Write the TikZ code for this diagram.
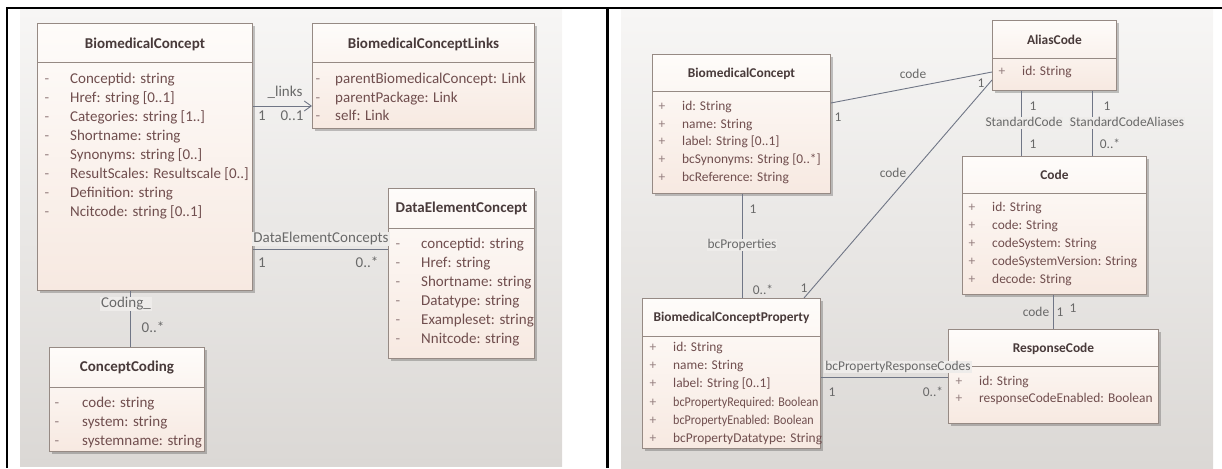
\documentclass[tikz,border=0pt]{standalone}
\usepackage{fontspec}
\usepackage{graphicx}
\setmainfont{Carlito}
\usetikzlibrary{shadows,arrows.meta}

\definecolor{panelTop}{RGB}{247,246,245}
\definecolor{panelBot}{RGB}{219,216,213}
\definecolor{boxTop}{RGB}{254,252,250}
\definecolor{boxBot}{RGB}{247,233,225}
\definecolor{boxLine}{RGB}{150,138,132}
\definecolor{titleInk}{RGB}{72,58,58}
\definecolor{attrInk}{RGB}{112,78,78}
\definecolor{markInk}{RGB}{150,128,128}
\definecolor{connInk}{RGB}{112,118,134}
\definecolor{lblInk}{RGB}{105,105,105}
\definecolor{lblBg}{RGB}{238,236,234}

% class box: name, x, y, width, height, separator y, title y, title, size suffix
\newcommand\umlclass[9]{%
  \node[classshape, minimum width=#4pt, minimum height=#5pt] (#1) at (#2,#3) {};
  \draw[sepline] (#1.west |- 0,#6) -- (#1.east |- 0,#6);
  \node[title#9] (#1-title) at (#1.north |- 0,#7) {#8};
}
% attribute rows: box name, size suffix, marker, marker x, text x, first y, step, items
\newcommand\attrrows[8]{%
  \foreach \t [count=\i from 0] in {#8} {
    \node[mark#2] (#1-m\i) at (#4,{#6+#7*\i}) {#3};
    \node[attr#2] (#1-a\i) at (#5,{#6+#7*\i}) {\t};
  }
}

\begin{document}
\begin{tikzpicture}[x=1pt,y=-1pt,
  classshape/.style={draw=boxLine, line width=0.9pt, top color=boxTop, bottom color=boxBot,
    inner sep=0pt, anchor=north west,
    drop shadow={shadow xshift=2.5pt, shadow yshift=-2.5pt, fill=black, opacity=0.22}},
  sepline/.style={draw=boxLine, line width=0.8pt},
  fontA/.style={font=\fontsize{15}{18}\selectfont, text height=10.5pt, text depth=3pt, inner sep=0pt},
  fontB/.style={font=\fontsize{13.4}{16}\selectfont, text height=9.4pt, text depth=2.7pt, inner sep=0pt},
  titleA/.style={fontA, font=\fontsize{15}{18}\selectfont\bfseries, text=titleInk},
  titleB/.style={fontB, font=\fontsize{13.4}{16}\selectfont\bfseries, text=titleInk},
  attrA/.style={fontA, text=attrInk, anchor=west},
  attrB/.style={fontB, text=attrInk, anchor=west},
  markA/.style={fontA, text=markInk},
  markB/.style={fontB, text=markInk},
  assoc/.style={draw=connInk, line width=0.9pt},
  lblA/.style={fontA, text=lblInk},
  lblB/.style={fontB, text=lblInk},
  lblbg/.style={fill=lblBg, inner xsep=1pt}
]
\useasboundingbox (0,0) rectangle (1222,468);

% panel backgrounds
\fill[top color=panelTop, bottom color=panelBot] (20,9) rectangle (562,466);
\fill[top color=panelTop, bottom color=panelBot] (621,9) rectangle (1213,468);

% table rules
\draw[line width=1.7pt] (6,8) -- (1222,8);
\draw[line width=2pt] (7,8) -- (7,468);
\draw[line width=2.2pt] (607.5,8) -- (607.5,468);

% ---------------- first model ----------------
\umlclass{bcA}{37}{23}{215}{267}{62}{45}{BiomedicalConcept}{A}
\attrrows{bcA}{A}{-}{47}{70}{80}{19}{{Conceptid: string},{Href: string [0..1]},{Categories: string [1..]},{Shortname: string},{Synonyms: string [0..]},{ResultScales: Resultscale [0..]},{Definition: string},{Ncitcode: string [0..1]}}

\umlclass{lnk}{312}{23}{222}{105}{62}{45}{BiomedicalConceptLinks}{A}
\attrrows{lnk}{A}{-}{318}{335}{80}{18.5}{{parentBiomedicalConcept: Link},{parentPackage: Link},{self: Link}}

\umlclass{dec}{388}{188}{146}{170}{228}{209}{DataElementConcept}{A}
\attrrows{dec}{A}{-}{398}{421}{245}{19}{{conceptid: string},{Href: string},{Shortname: string},{Datatype: string},{Exampleset: string},{Nnitcode: string}}

\umlclass{cc}{49}{347}{155}{104}{387}{368}{ConceptCoding}{A}
\attrrows{cc}{A}{-}{57}{82}{404}{19}{{code: string},{system: string},{systemname: string}}

% associations
\draw[assoc, -{Straight Barb[length=7pt,width=10pt]}] (bcA.east |- 0,106) -- (lnk.west |- 0,106);
\node[lblA] (lnk-name) at (285,93) {\_links};
\node[lblA] (lnk-m1) at (262,117) {1};
\node[lblA] (lnk-m2) at (292,117) {0..1};

\draw[assoc] (bcA.east |- 0,249) -- (dec.west |- 0,249);
\node[lblA, lblbg] (dec-name) at (321,239) {DataElementConcepts};
\node[lblA] (dec-m1) at (262,264) {1};
\node[lblA] (dec-m2) at (367,264) {0..*};

\draw[assoc] (bcA.south -| 130,0) -- (cc.north -| 130,0);
\node[lblA, lblbg] (cc-name) at (126,304) {Coding\_};
\node[lblA] (cc-m2) at (153,329) {0..*};

% ---------------- second model ----------------
\umlclass{bcB}{652}{54}{178}{139}{91}{74}{BiomedicalConcept}{B}
\attrrows{bcB}{B}{+}{662}{682}{107}{17.8}{{id: String},{name: String},{label: String [0..1]},{bcSynonyms: String [0..*]},{bcReference: String}}

\umlclass{alias}{992}{20}{124}{70}{58}{41}{AliasCode}{B}
\attrrows{alias}{B}{+}{1002}{1022}{72}{18}{{id: String}}

\umlclass{code}{962}{156}{184}{138}{193}{176}{Code}{B}
\attrrows{code}{B}{+}{972}{992}{208}{18}{{id: String},{code: String},{codeSystem: String},{codeSystemVersion: String},{decode: String}}

\umlclass{rc}{948}{329}{210}{94}{366}{349}{ResponseCode}{B}
\attrrows{rc}{B}{+}{959}{979}{382}{17.5}{{id: String},{responseCodeEnabled: Boolean}}

\umlclass{bcp}{642}{298}{178}{150}{336}{318}{BiomedicalConceptProperty}{B}
\attrrows{bcp}{B}{+}{653}{673}{348}{18.3}{{id: String},{name: String},{label: String [0..1]},{\scalebox{0.9}[1]{bcPropertyRequired: Boolean}},{\scalebox{0.9}[1]{bcPropertyEnabled: Boolean}},{bcPropertyDatatype: String}}

% associations
\draw[assoc] (bcB.east |- 0,103) -- (alias.west |- 0,72);
\node[lblB] (c1-name) at (913,75) {code};
\node[lblB] (c1-m1) at (838,118) {1};
\node[lblB] (c1-m2) at (981,84) {1};

\draw[assoc] (bcp.north -| 804,0) -- (alias.west |- 0,80);
\node[lblB] (c2-name) at (893,174) {code};
\node[lblB] (c2-m1) at (804,289) {1};

\draw[assoc] (bcB.south -| 742,0) -- (bcp.north -| 742,0);
\node[lblB, lblbg] (bp-name) at (742,245) {bcProperties};
\node[lblB] (bp-m1) at (753,210) {1};
\node[lblB] (bp-m2) at (763,291) {0..*};

\draw[assoc] (alias.south -| 1021,0) -- (code.north -| 1021,0);
\node[lblB, lblbg] (sc-name) at (1024,123) {StandardCode};
\node[lblB] (sc-m1) at (1033,107) {1};
\node[lblB] (sc-m2) at (1033,145) {1};

\draw[assoc] (alias.south -| 1092,0) -- (code.north -| 1092,0);
\node[lblB, lblbg] (sca-name) at (1127,123) {StandardCodeAliases};
\node[lblB] (sca-m1) at (1107,107) {1};
\node[lblB] (sca-m2) at (1110,145) {0..*};

\draw[assoc] (code.south -| 1053,0) -- (rc.north -| 1053,0);
\node[lblB] (cr-name) at (1036,313) {code};
\node[lblB] (cr-m1) at (1060,313) {1};
\node[lblB] (cr-m2) at (1073,309) {1};

\draw[assoc] (bcp.east |- 0,377) -- (rc.west |- 0,377);
\node[lblB, lblbg] (prc-name) at (898,367) {bcPropertyResponseCodes};
\node[lblB] (prc-m1) at (832,393) {1};
\node[lblB] (prc-m2) at (933,393) {0..*};
\end{tikzpicture}
\end{document}
